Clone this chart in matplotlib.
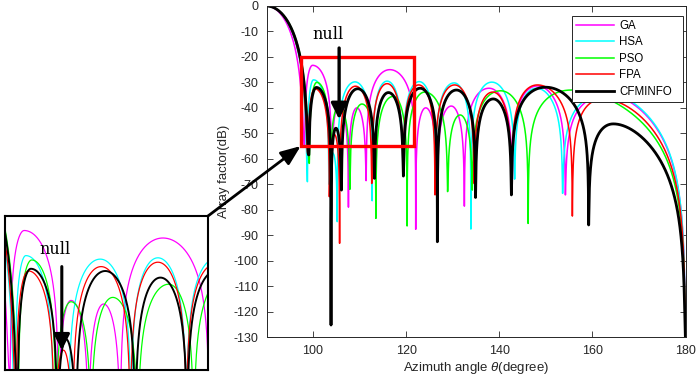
import numpy as np
import matplotlib
matplotlib.use("Agg")
import matplotlib.pyplot as plt
from matplotlib.patches import Rectangle

plt.rcParams["font.family"] = ["Liberation Sans", "DejaVu Sans"]
plt.rcParams["axes.unicode_minus"] = False
plt.rcParams["mathtext.fontset"] = "custom"
plt.rcParams["mathtext.it"] = "Liberation Sans:italic"
plt.rcParams["mathtext.rm"] = "Liberation Sans"

# ---- data: null angles / depths and lobe peaks ----
SERIES = ["GA", "HSA", "PSO", "FPA", "CFMINFO"]
COLORS = ["#FF00FF", "#00FFFF", "#00FF00", "#FF0000", "#000000"]

GA_NULLS = [98.2, 104.0, 107.6, 111.4, 122.05, 126.6, 132.5, 142.8, 154.2, 180]
GA_DEPTH = [-55, -65, -79, -68.6, -87.7, -66, -78.6, -68, -74.2, -130]
GA_PEAK_AT = [90, 99.9, 105.5, 109.4, 116.5, 124.2, 129.7, 137.8, 148.2, 163.5]
GA_PEAK_DB = [0, -23.3, -39.2, -40.0, -25.0, -40.0, -39.3, -32.3, -31.4, -35.0]

HSA_NULLS = [98.8, 103.4, 105.2, 112.7, 119.3, 126.3, 133.9, 143.3, 153.6, 180]
HSA_DEPTH = [-69, -70, -84.7, -76.5, -64, -68, -87.6, -68, -73.6, -130]
HSA_PEAK_AT = [90, 100.1, 104.3, 109.0, 115.9, 122.8, 130.3, 138.4, 148.0, 163.5]
HSA_PEAK_DB = [0, -29.0, -58, -29.8, -29.5, -29.7, -30.2, -29.9, -32.3, -34.5]

PSO_NULLS = [99.2, 103.7, 107.9, 113.5, 120.2, 128.9, 134.2, 146.2, 180]
PSO_DEPTH = [-61.8, -66, -72, -83.4, -86.4, -72.9, -72.3, -85.4, -130]
PSO_PEAK_AT = [90, 100.8, 105.5, 110.5, 117.2, 124.0, 131.6, 140.3, 155.5]
PSO_PEAK_DB = [0, -30.0, -39.5, -38.5, -35.5, -33.8, -42.8, -33.3, -33.0]

FPA_NULLS = [98.9, 103.5, 105.7, 112.6, 119.3, 126.2, 134.6, 142.6, 155.7, 180]
FPA_DEPTH = [-58, -74.9, -93.2, -69.7, -62, -74.2, -69.7, -71, -82.5, -130]
FPA_PEAK_AT = [90, 100.4, 104.6, 109.1, 115.9, 122.7, 130.4, 138.6, 148.2, 162.3]
FPA_PEAK_DB = [0, -32.5, -50.5, -31.5, -30.5, -31.0, -31.0, -33.8, -31.0, -36.5]

CFM_NULLS = [99.1, 103.86, 106.1, 113.2, 119.4, 126.7, 134.9, 142.6, 159.2, 180]
CFM_DEPTH = [-58.5, -125.3, -72.3, -67.7, -66.8, -92.6, -75.2, -74.2, -86, -130]
CFM_PEAK_AT = [90, 100.7, 104.9, 109.6, 116.2, 123.0, 130.8, 138.7, 150.0, 164.5]
CFM_PEAK_DB = [0, -32.0, -48.0, -32.5, -34.0, -32.3, -33.0, -36.5, -31.9, -46.3]

X_TICKS = [100, 120, 140, 160, 180]
Y_TICKS = list(range(0, -131, -10))


def pattern(nulls, depth, peak_at, peak_db):
    """Lobes between successive nulls, each a half sine in u = cos(theta)."""
    nulls = np.asarray(nulls, float)
    depth = np.asarray(depth, float)
    theta = np.union1d(np.linspace(90, 180, 9001), nulls)
    u = np.cos(np.radians(theta))
    edges = np.r_[90.0, nulls]
    amp = np.zeros_like(theta)
    for i, (c, p) in enumerate(zip(peak_at, peak_db)):
        a, b = edges[i], edges[i + 1]
        ua, ub, uc = np.cos(np.radians([a, b, c]))
        m = (theta >= a) & (theta <= b)
        uu = u[m]
        phi = np.empty_like(uu)
        left = uu > uc
        if uc != ua:
            phi[left] = 0.5 * np.pi * (uu[left] - ua) / (uc - ua)
        phi[~left] = 0.5 * np.pi * (1 + (uu[~left] - uc) / (ub - uc))
        s = np.clip(np.sin(phi), 0, None)
        if i == 0:
            s = s ** 2
        amp[m] = 10 ** (p / 20) * s
    idx = np.abs(theta[:, None] - nulls[None, :]).argmin(axis=1)
    floor = 10 ** (depth[idx] / 10)
    return theta, 10 * np.log10(amp ** 2 + floor)


curves = [
    pattern(GA_NULLS, GA_DEPTH, GA_PEAK_AT, GA_PEAK_DB),
    pattern(HSA_NULLS, HSA_DEPTH, HSA_PEAK_AT, HSA_PEAK_DB),
    pattern(PSO_NULLS, PSO_DEPTH, PSO_PEAK_AT, PSO_PEAK_DB),
    pattern(FPA_NULLS, FPA_DEPTH, FPA_PEAK_AT, FPA_PEAK_DB),
    pattern(CFM_NULLS, CFM_DEPTH, CFM_PEAK_AT, CFM_PEAK_DB),
]

W, H = 697, 379
fig = plt.figure(figsize=(W / 100, H / 100), dpi=100)
ax = fig.add_axes([266.5 / W, 1 - 337 / H, 419 / W, 331 / H])

for (th, db), name, col in zip(curves, SERIES, COLORS):
    lw = 2.0 if name == "CFMINFO" else 1.1
    ax.plot(th, db, color=col, lw=lw, label=name)

ax.set_xlim(90, 180)
ax.set_ylim(-130, 0)
ax.set_xticks(X_TICKS)
ax.set_yticks(Y_TICKS)
ax.tick_params(direction="in", top=True, right=True, labelsize=9,
               colors="#262626", length=4, width=0.6, pad=6)
for sp in ax.spines.values():
    sp.set_color("#262626")
    sp.set_linewidth(0.7)
ax.set_xlabel(r"Azimuth angle $\theta$(degree)", fontsize=9.5,
              color="#262626", labelpad=2)
ax.set_ylabel("Array factor(dB)", fontsize=9.5, color="#262626", labelpad=2)

leg = ax.legend(loc="upper left",
                bbox_to_anchor=(571.7 / W, 1 - 99 / H, 111.6 / W, 83 / H),
                bbox_transform=fig.transFigure, mode="expand",
                borderaxespad=0, fontsize=8.3, fancybox=False, framealpha=1,
                edgecolor="#262626", handlelength=3.3, handletextpad=0.45,
                labelspacing=0.38, borderpad=0.35)
leg.get_frame().set_linewidth(0.7)

# red box marking the zoomed region
ax.add_patch(Rectangle((97.35, -55), 121.7 - 97.35, 35, fill=False,
                       edgecolor="#FF0000", lw=2.4, zorder=5))
ax.text(103.3, -11, "null", family="DejaVu Serif", fontsize=11.5,
        ha="center", va="center")
head = "-|>,head_length=0.6,head_width=0.3"
ax.annotate("", xy=(105.6, -44.5), xytext=(105.6, -16.5),
            arrowprops=dict(arrowstyle=head, lw=2.4, color="k",
                            mutation_scale=16, shrinkA=0, shrinkB=0),
            zorder=6)

# inset with the zoomed region
ins = fig.add_axes([5 / W, 1 - 370 / H, 203 / W, 154 / H])
for (th, db), name, col in zip(curves, SERIES, COLORS):
    lw = 1.4 if name == "CFMINFO" else 0.9
    ins.plot(th, db, color=col, lw=lw)
ins.set_xlim(97.6, 121.9)
ins.set_ylim(-55, -20)
ins.set_xticks([])
ins.set_yticks([])
for sp in ins.spines.values():
    sp.set_linewidth(1.5)
ins.text(103.6, -27.5, "null", family="DejaVu Serif", fontsize=11.5,
         ha="center", va="center")
ins.annotate("", xy=(104.4, -50.5), xytext=(104.4, -31.5),
             arrowprops=dict(arrowstyle=head, lw=2.2, color="k",
                             mutation_scale=16, shrinkA=0, shrinkB=0),
             zorder=6)

# connector from inset to the red box
ax.annotate("", xy=(97.35, -55), xycoords="data",
            xytext=(208 / W, 1 - 216 / H), textcoords="figure fraction",
            annotation_clip=False, zorder=6,
            arrowprops=dict(arrowstyle="-|>,head_length=0.75,head_width=0.3",
                            lw=2.0, color="k", mutation_scale=16,
                            shrinkA=0, shrinkB=0))

fig.savefig("out.png", dpi=100)
